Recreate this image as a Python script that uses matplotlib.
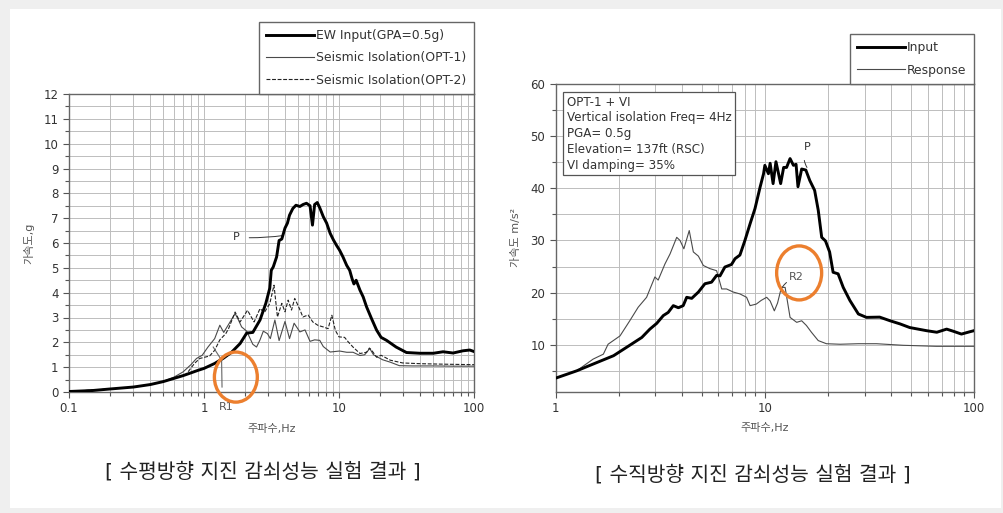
import matplotlib
matplotlib.use('Agg')
import matplotlib.pyplot as plt
import matplotlib.patches as mpatches
from matplotlib.ticker import MultipleLocator, FixedLocator, NullFormatter, LogLocator

plt.rcParams['font.family'] = ['DejaVu Sans', 'Noto Sans CJK KR']

# ---- left panel: horizontal test (g) ----
ew_f = [0.1, 0.15, 0.2, 0.3, 0.4, 0.5, 0.6, 0.7, 0.8, 0.9, 1.0, 1.2, 1.4, 1.6, 1.85,
        2.07, 2.3, 2.6, 2.87, 3.07, 3.15, 3.26, 3.45, 3.6, 3.77, 3.98, 4.15, 4.3, 4.55,
        4.8, 5.13, 5.42, 5.74, 6.1, 6.36, 6.6, 6.9, 7.2, 7.65, 8.1, 8.6, 9.1, 9.6, 10.1,
        10.7, 11.4, 12.0, 12.5, 12.9, 13.4, 14.3, 15.1, 16.0, 17.4, 19.0, 20.5, 22.5,
        26.5, 31.6, 39.7, 50, 59, 70, 83, 93, 100]
ew_a = [0.02, 0.06, 0.12, 0.2, 0.3, 0.42, 0.55, 0.66, 0.77, 0.87, 0.95, 1.15, 1.37, 1.6,
        1.95, 2.37, 2.4, 2.9, 3.57, 4.18, 4.9, 5.04, 5.44, 6.1, 6.16, 6.6, 6.8, 7.12, 7.39,
        7.52, 7.47, 7.55, 7.6, 7.5, 6.72, 7.55, 7.63, 7.42, 7.06, 6.8, 6.39, 6.12, 5.9,
        5.71, 5.44, 5.1, 4.9, 4.56, 4.35, 4.5, 4.1, 3.83, 3.43, 2.96, 2.49, 2.2, 2.08,
        1.81, 1.59, 1.56, 1.56, 1.62, 1.57, 1.66, 1.69, 1.63]

o1_f = [0.1, 0.2, 0.3, 0.4, 0.5, 0.6, 0.7, 0.8, 0.88, 0.97, 1.07, 1.2, 1.31, 1.4, 1.56,
        1.7, 1.8, 1.9, 2.07, 2.3, 2.45, 2.6, 2.75, 2.95, 3.1, 3.35, 3.6, 3.98, 4.3, 4.65,
        5.13, 5.6, 6.1, 6.6, 7.2, 7.65, 8.6, 10.1, 11.4, 12.7, 14.3, 15.5, 16.9, 18.0,
        19.0, 21, 24, 28, 35, 50, 70, 100]
o1_a = [0.02, 0.12, 0.2, 0.3, 0.43, 0.6, 0.81, 1.1, 1.35, 1.48, 1.81, 2.15, 2.69, 2.4,
        2.82, 3.16, 2.9, 2.62, 2.45, 1.92, 1.81, 2.1, 2.45, 2.35, 2.15, 2.9, 2.07, 2.84,
        2.15, 2.77, 2.42, 2.5, 2.04, 2.1, 2.08, 1.83, 1.61, 1.65, 1.6, 1.6, 1.47, 1.5,
        1.75, 1.5, 1.43, 1.3, 1.2, 1.06, 1.05, 1.05, 1.04, 1.04]

o2_f = [0.1, 0.2, 0.3, 0.4, 0.5, 0.6, 0.74, 0.85, 0.93, 1.1, 1.2, 1.31, 1.45, 1.52, 1.7,
        1.85, 2.1, 2.35, 2.6, 2.8, 3.07, 3.3, 3.5, 3.77, 3.98, 4.2, 4.45, 4.7, 5.1, 5.4,
        5.9, 6.4, 7.0, 7.65, 8.3, 8.85, 9.4, 10.0, 11.0, 11.7, 12.7, 14.3, 16.0, 16.8,
        17.4, 19.0, 20.5, 24, 29.6, 40, 60, 100]
o2_a = [0.02, 0.12, 0.2, 0.3, 0.42, 0.56, 0.72, 1.15, 1.35, 1.45, 1.68, 2.1, 2.35, 2.55,
        3.22, 2.82, 3.29, 2.82, 3.36, 3.2, 3.56, 4.3, 3.02, 3.57, 3.23, 3.7, 3.3, 3.77,
        3.35, 3.02, 3.1, 2.82, 2.68, 2.62, 2.55, 3.09, 2.48, 2.22, 2.2, 2.02, 1.81, 1.55,
        1.6, 1.77, 1.69, 1.4, 1.48, 1.28, 1.17, 1.14, 1.12, 1.1]

# ---- right panel: vertical test (m/s^2) ----
in_f = [1.0, 1.26, 1.51, 1.89, 2.18, 2.58, 2.82, 3.04, 3.27, 3.45, 3.65, 3.86, 4.07, 4.23,
        4.47, 4.81, 5.17, 5.56, 5.88, 6.1, 6.44, 6.93, 7.2, 7.6, 8.03, 8.5, 8.97, 9.5,
        9.86, 10.0, 10.4, 10.6, 10.95, 11.3, 11.6, 11.9, 12.3, 12.7, 13.2, 13.7, 14.1,
        14.4, 15.0, 15.7, 16.4, 17.3, 18.0, 18.7, 19.5, 20.4, 21.2, 22.4, 23.7, 25.5,
        28.0, 30.6, 35.4, 39.7, 44.3, 49.3, 59.3, 66.4, 74, 79.5, 87.1, 95.6, 100]
in_a = [3.6, 5.0, 6.3, 7.9, 9.5, 11.4, 13.0, 14.1, 15.6, 16.2, 17.5, 17.1, 17.5, 19.1,
        18.9, 20.1, 21.7, 22.0, 23.3, 23.2, 24.9, 25.4, 26.5, 27.2, 30.0, 33.2, 36.1,
        40.3, 42.8, 44.4, 42.8, 44.8, 40.9, 45.1, 43.0, 40.9, 44.0, 44.0, 45.7, 44.4,
        44.6, 40.3, 43.7, 43.5, 41.5, 39.6, 35.8, 30.6, 29.9, 27.8, 23.9, 23.6, 21.0,
        18.5, 15.9, 15.25, 15.3, 14.6, 14.0, 13.3, 12.7, 12.4, 13.0, 12.6, 12.05, 12.5, 12.7]

rs_f = [1.0, 1.26, 1.36, 1.51, 1.69, 1.78, 2.03, 2.26, 2.48, 2.72, 2.98, 3.09, 3.33, 3.52,
        3.79, 3.93, 4.1, 4.35, 4.55, 4.81, 5.08, 5.46, 5.88, 6.22, 6.56, 7.07, 7.6, 8.18,
        8.5, 9.1, 9.6, 10.2, 10.6, 11.1, 11.5, 12.0, 12.5, 13.2, 14.2, 15.0, 15.8, 16.7,
        18.0, 19.7, 22.9, 28, 34.2, 45.8, 66, 100]
rs_a = [3.6, 5.0, 5.96, 7.25, 8.2, 10.1, 11.7, 14.6, 17.2, 19.1, 23.0, 22.4, 25.5, 27.4,
        30.6, 30.0, 28.4, 31.9, 27.8, 27.0, 25.2, 24.6, 24.2, 20.7, 20.7, 20.1, 19.75,
        19.1, 17.5, 17.8, 18.5, 19.1, 18.4, 16.5, 18.0, 21.0, 21.0, 15.25, 14.3, 14.6,
        13.7, 12.4, 10.8, 10.2, 10.1, 10.2, 10.2, 9.9, 9.7, 9.7]

left_labels = ['EW Input(GPA=0.5g)', 'Seismic Isolation(OPT-1)', 'Seismic Isolation(OPT-2)']
right_labels = ['Input', 'Response']
info_lines = ['OPT-1 + VI', 'Vertical isolation Freq= 4Hz', 'PGA= 0.5g',
              'Elevation= 137ft (RSC)', 'VI damping= 35%']
captions = ['[ 수평방향 지진 감쇠성능 실험 결과 ]', '[ 수직방향 지진 감쇠성능 실험 결과 ]']

W, H = 1004, 513
fig = plt.figure(figsize=(W / 100, H / 100), dpi=100, facecolor='#efefef')
fig.patches.append(mpatches.Rectangle((10 / W, 1 - 508 / H), 991 / W, 499 / H,
                                      transform=fig.transFigure, facecolor='white',
                                      edgecolor='none', zorder=-5))

TXT = '#333333'
ORANGE = '#ec7f2e'
FS = 8
LFS = 8.9


def style_axes(ax):
    ax.set_xscale('log')
    ax.xaxis.set_minor_locator(LogLocator(base=10, subs=range(2, 10)))
    ax.xaxis.set_minor_formatter(NullFormatter())
    ax.grid(True, which='both', color='#bdbdbd', lw=0.7)
    ax.set_axisbelow(True)
    for s in ax.spines.values():
        s.set_color('#666666')
        s.set_linewidth(1.0)
    ax.tick_params(which='both', direction='out', colors='#555555', labelcolor=TXT,
                   labelsize=8.5, width=0.8)
    ax.tick_params(which='major', length=4)
    ax.tick_params(which='minor', length=3)


# left panel
ax1 = fig.add_axes([69 / W, 1 - 392 / H, 405 / W, 298 / H])
style_axes(ax1)
ax1.plot(ew_f, ew_a, color='black', lw=2.1, label=left_labels[0], zorder=4)
ax1.plot(o1_f, o1_a, color='#4a4a4a', lw=0.8, label=left_labels[1], zorder=3)
ax1.plot(o2_f, o2_a, color='#222222', lw=0.8, ls=(0, (3.5, 1.5)), label=left_labels[2], zorder=3)
ax1.set_xlim(0.1, 100)
ax1.set_ylim(0, 12)
ax1.yaxis.set_major_locator(MultipleLocator(1))
ax1.yaxis.set_minor_locator(MultipleLocator(0.5))
ax1.set_xticks([0.1, 1, 10, 100])
ax1.set_xticklabels(['0.1', '1', '10', '100'])
ax1.set_xlabel('주파수,Hz', fontsize=FS, color='#555555', labelpad=6)
ax1.set_ylabel('가속도,g', fontsize=FS, color='#555555', labelpad=7)
leg1 = ax1.legend(loc='lower right', bbox_to_anchor=(1.0, 1.0), borderaxespad=0,
                  fontsize=LFS, handlelength=3.9, handletextpad=0.15, labelspacing=0.75,
                  fancybox=False, framealpha=1, edgecolor='#666666', borderpad=0.6)
for t in leg1.get_texts():
    t.set_color(TXT)

# annotations left
ax1.annotate('P', xy=(3.85, 6.3), xytext=(1.73, 6.23), fontsize=FS, color=TXT,
             va='center', ha='center',
             arrowprops=dict(arrowstyle='-', color='#333333', lw=0.7,
                             connectionstyle='arc3,rad=0.05', shrinkA=5, shrinkB=0))
ax1.plot([1.17, 1.35, 1.36], [1.81, 1.28, 0.2], color='#666666', lw=0.8, zorder=3)
ax1.text(1.47, -0.62, 'R1', fontsize=FS, color='#555555', ha='center', va='center',
         clip_on=False)
ax1.add_patch(mpatches.Ellipse((0.412, 0.05), 0.106, 0.168, transform=ax1.transAxes,
                               fill=False, edgecolor=ORANGE, lw=2.4, clip_on=False, zorder=6))

# right panel
ax2 = fig.add_axes([555.7 / W, 1 - 391.7 / H, 418.3 / W, 307.7 / H])
style_axes(ax2)
ax2.plot(in_f, in_a, color='black', lw=2.1, label=right_labels[0], zorder=4)
ax2.plot(rs_f, rs_a, color='#4a4a4a', lw=0.8, label=right_labels[1], zorder=3)
ax2.set_xlim(1, 100)
ax2.set_ylim(1, 60)
ax2.yaxis.set_major_locator(FixedLocator([10, 20, 30, 40, 50, 60]))
ax2.yaxis.set_minor_locator(FixedLocator([5, 15, 25, 35, 45, 55]))
ax2.set_xticks([1, 10, 100])
ax2.set_xticklabels(['1', '10', '100'])
ax2.set_xlabel('주파수,Hz', fontsize=FS, color='#555555', labelpad=6)
ax2.set_ylabel('가속도 m/s²', fontsize=FS, color='#555555', labelpad=7)
leg2 = ax2.legend(loc='lower right', bbox_to_anchor=(1.0, 1.0), borderaxespad=0,
                  fontsize=LFS, handlelength=3.9, handletextpad=0.15, labelspacing=0.75,
                  fancybox=False, framealpha=1, edgecolor='#666666', borderpad=0.6)
for t in leg2.get_texts():
    t.set_color(TXT)

ax2.text(0.027, 0.962, '\n'.join(info_lines), transform=ax2.transAxes, fontsize=8.6,
         color=TXT, va='top', ha='left', linespacing=1.28, zorder=7,
         bbox=dict(boxstyle='square,pad=0.3', facecolor='white', edgecolor='#555555', lw=0.9))

ax2.annotate('P', xy=(15.9, 44.0), xytext=(15.95, 47.9), fontsize=FS, color=TXT,
             ha='center', va='center',
             arrowprops=dict(arrowstyle='-', color='#333333', lw=0.7,
                             connectionstyle='arc3,rad=0.3', shrinkA=4, shrinkB=0))
ax2.annotate('R2', xy=(12.1, 21.0), xytext=(14.2, 22.9), fontsize=FS, color='#555555',
             ha='center', va='center',
             arrowprops=dict(arrowstyle='-', color='#333333', lw=0.7,
                             connectionstyle='arc3,rad=0.2', shrinkA=5, shrinkB=0))
ax2.add_patch(mpatches.Ellipse((0.582, 0.386), 0.1076, 0.1755, transform=ax2.transAxes,
                               fill=False, edgecolor=ORANGE, lw=2.4, clip_on=False, zorder=6))

fig.text(263 / W, 1 - 472 / H, captions[0], fontsize=14.6, color='#222222',
         ha='center', va='center')
fig.text(753 / W, 1 - 475 / H, captions[1], fontsize=14.6, color='#222222',
         ha='center', va='center')

fig.savefig('out.png', dpi=100, facecolor=fig.get_facecolor())
